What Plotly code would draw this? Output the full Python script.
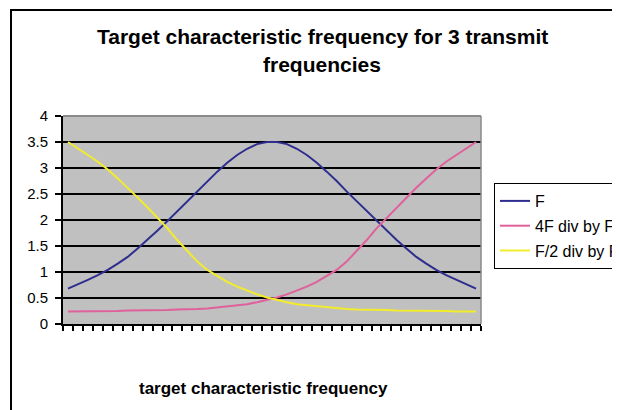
import plotly.graph_objects as go

# ---- data ----
idx = list(range(42))
f_vals = [0.68, 0.76, 0.85, 0.94, 1.04, 1.16, 1.29, 1.45, 1.62, 1.80,
          1.98, 2.17, 2.36, 2.55, 2.75, 2.93, 3.10, 3.25, 3.37, 3.46,
          3.50, 3.50, 3.46, 3.37, 3.25, 3.10, 2.93, 2.75, 2.55, 2.36,
          2.17, 1.98, 1.80, 1.62, 1.45, 1.29, 1.16, 1.04, 0.94, 0.85,
          0.76, 0.68]
half_vals = [3.50, 3.38, 3.25, 3.12, 2.97, 2.80, 2.62, 2.43, 2.24, 2.04,
             1.84, 1.61, 1.40, 1.20, 1.04, 0.92, 0.81, 0.72, 0.64, 0.57,
             0.51, 0.46, 0.42, 0.38, 0.36, 0.34, 0.32, 0.30, 0.29, 0.28,
             0.28, 0.27, 0.27, 0.26, 0.26, 0.26, 0.25, 0.25, 0.25, 0.24,
             0.24, 0.24]
four_vals = [0.24, 0.24, 0.24, 0.25, 0.25, 0.25, 0.26, 0.26, 0.26, 0.27,
             0.27, 0.28, 0.28, 0.29, 0.30, 0.32, 0.34, 0.36, 0.38, 0.42,
             0.46, 0.51, 0.57, 0.64, 0.72, 0.81, 0.92, 1.04, 1.20, 1.40,
             1.61, 1.84, 2.04, 2.24, 2.43, 2.62, 2.80, 2.97, 3.12, 3.25,
             3.38, 3.50]
series_names = ["F", "4F div by F", "F/2 div by F"]
series_colors = ["#2e2e8e", "#e0609c", "#f2ec2a"]
y_ticks = [0, 0.5, 1, 1.5, 2, 2.5, 3, 3.5, 4]
y_ticklabels = ["0", "0.5", "1", "1.5", "2", "2.5", "3", "3.5", "4"]
title_lines = ["Target characteristic frequency for 3 transmit", "frequencies"]
x_title = "target characteristic frequency"

OFF = 8                      # page body margin of the browser
W, H = 620 - OFF, 410 - OFF
L, R, T, B = 63, 481, 116, 324   # plot area in window pixels
pw, ph = R - L, B - T

def px(x):
    return (x - L) / pw

def py(y):
    return (B - y) / ph

fig = go.Figure()
for name, vals, col in zip(series_names, [f_vals, four_vals, half_vals], series_colors):
    fig.add_trace(go.Scatter(x=idx, y=vals, mode="lines", name=name,
                             legendgroup=name,
                             line=dict(color=col, width=2)))

fig.update_layout(
    width=W, height=H,
    margin=dict(l=L - OFF, r=W - (R - OFF), t=T - OFF, b=H - (B - OFF),
                autoexpand=False),
    paper_bgcolor="white",
    plot_bgcolor="#c0c0c0",
    font=dict(family="Liberation Sans, Arial", size=15, color="black"),
    showlegend=True,
    legend=dict(x=px(494), y=py(183), xanchor="left", yanchor="top",
                bgcolor="white", bordercolor="black", borderwidth=1,
                font=dict(size=16), tracegroupgap=1, traceorder="grouped"),
    xaxis=dict(range=[-0.5, 41.5], tickvals=[i - 0.5 for i in range(43)],
               showticklabels=False, ticks="outside", ticklen=5, tickwidth=1.5,
               tickcolor="black", showgrid=False, zeroline=False,
               showline=True, linecolor="black", linewidth=2),
    yaxis=dict(range=[0, 4], tickvals=y_ticks, ticktext=y_ticklabels,
               ticks="outside", ticklen=6, tickwidth=1.5, tickcolor="black",
               showgrid=True, gridcolor="black", gridwidth=2, zeroline=False,
               showline=True, linecolor="black", linewidth=2,
               ticklabelstandoff=4, tickfont=dict(size=15)),
)

# plot area border (gray) on top and right
fig.add_shape(type="line", xref="paper", yref="paper", x0=0, x1=1, y0=1, y1=1,
              line=dict(color="#8a8a8a", width=2), layer="above")
fig.add_shape(type="line", xref="paper", yref="paper", x0=1, x1=1, y0=0, y1=1,
              line=dict(color="#8a8a8a", width=1.5), layer="above")
# chart outer border
fig.add_shape(type="rect", xref="paper", yref="paper",
              x0=px(11), x1=px(700), y0=py(500), y1=py(10),
              line=dict(color="black", width=2), layer="above")

fig.add_annotation(text="<b>%s</b>" % title_lines[0], xref="paper", yref="paper",
                   x=px(322), y=py(36), showarrow=False, xanchor="center",
                   yanchor="middle", font=dict(size=21))
fig.add_annotation(text="<b>%s</b>" % title_lines[1], xref="paper", yref="paper",
                   x=px(322), y=py(64), showarrow=False, xanchor="center",
                   yanchor="middle", font=dict(size=21))
fig.add_annotation(text="<b>%s</b>" % x_title, xref="paper", yref="paper",
                   x=px(263), y=py(388), showarrow=False, xanchor="center",
                   yanchor="middle", font=dict(size=17))

fig.write_html("out.html")
